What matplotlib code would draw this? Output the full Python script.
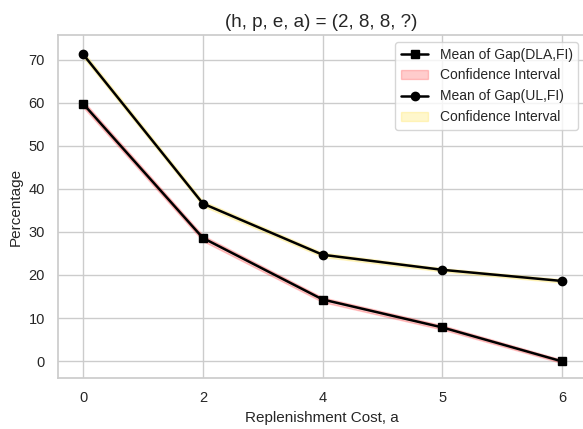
import matplotlib
matplotlib.use("Agg")
import matplotlib.pyplot as plt
import seaborn as sns
import numpy as np

sns.set_theme(style="whitegrid")
plt.rcParams['font.family'] = ['Arial', 'Liberation Sans', 'DejaVu Sans']

x_labels = ["0", "2", "4", "5", "6"]
dla_mean = [59.8, 28.6, 14.3, 7.8, -0.1]
dla_lo = [59.0, 27.9, 13.7, 7.3, -0.5]
dla_hi = [60.5, 29.2, 14.8, 8.3, 0.3]
ul_mean = [71.3, 36.6, 24.7, 21.2, 18.6]
ul_lo = [70.6, 36.0, 24.2, 20.8, 18.2]
ul_hi = [72.0, 37.2, 25.2, 21.6, 19.0]

x = np.arange(len(x_labels))

fig = plt.figure(figsize=(5.83, 4.29), dpi=100)
ax = fig.add_axes([58/583, 1 - 378/429, 527/583, (378-35)/429])

ax.plot(x, dla_mean, color="black", marker="s", markersize=6, linewidth=1.8,
        label="Mean of Gap(DLA,FI)")
ax.fill_between(x, dla_lo, dla_hi, color="red", alpha=0.2, label="Confidence Interval")
ax.plot(x, ul_mean, color="black", marker="o", markersize=6, linewidth=1.8,
        label="Mean of Gap(UL,FI)")
ax.fill_between(x, ul_lo, ul_hi, color="gold", alpha=0.2, label="Confidence Interval")

ax.set_xticks(x)
ax.set_xticklabels(x_labels)
ax.set_xlim(-0.21, 4.19)
ax.set_ylim(-3.95, 75.8)
ax.set_yticks([0, 10, 20, 30, 40, 50, 60, 70])
ax.tick_params(labelsize=10.5)
ax.set_xlabel("Replenishment Cost, a", fontsize=11)
ax.set_ylabel("Percentage", fontsize=11)
ax.set_title("(h, p, e, a) = (2, 8, 8, ?)", fontsize=13.5)
ax.legend(loc="upper right", fontsize=10)

fig.savefig("out.png", dpi=100)
